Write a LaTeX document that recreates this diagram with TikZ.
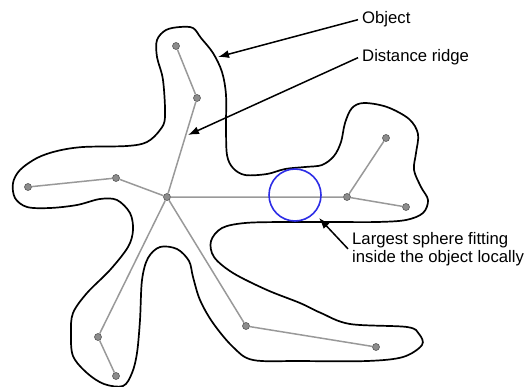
\documentclass[tikz,border=0pt]{standalone}
\usepackage{fontspec}
\setmainfont{Liberation Sans}
\usetikzlibrary{positioning,arrows.meta}
\definecolor{ballblue}{RGB}{45,45,230}
\tikzset{
    joint/.style={circle,draw=black!65,fill=black!45,line width=0.6pt,inner sep=0pt,minimum size=7pt},
    ridge/.style={draw=black!40,line width=1.5pt},
    note/.style={inner sep=4pt,font=\fontsize{16.7}{17.6}\selectfont,align=left},
    pointer/.style={-{Latex[length=11pt,width=8pt]},line width=1.5pt},
}
\begin{document}
\begin{tikzpicture}[x=1pt,y=-1pt]
            \useasboundingbox (0,0) rectangle (526,387);
            \draw[line width=1.7pt] plot[smooth cycle,tension=0.55] coordinates {
                (180,27) (193,28) (201,38) (213,53) (222,72) (226,95) (226,127) (227,155)
                (233,168) (245,175) (267,174) (285,169) (305,167) (322,165) (334,156)
                (341,142) (345,123) (352,108) (364,103) (387,107) (409,119) (418,134)
                (416,153) (414,170) (421,187) (428,200) (423,213) (406,220) (377,222)
                (333,222) (283,222) (245,223) (222,228) (211,241) (214,257) (233,273)
                (267,290) (300,303) (321,313) (350,324) (407,327) (419,334) (422,345)
                (403,357) (367,361) (300,361) (253,360) (233,347) (213,323) (200,300)
                (193,277) (189,261) (177,249) (160,247) (148,258) (142,280) (140,320)
                (137,353) (132,373) (123,386) (104,384) (87,373) (73,356) (71,333)
                (73,313) (87,293) (110,270) (128,247) (133,230) (130,213) (117,200)
                (100,199) (77,205) (50,208) (27,207) (15,198) (13,183) (20,170)
                (37,158) (57,151) (83,147) (127,146) (147,142) (160,130) (165,117)
                (163,80) (157,57) (157,40) (166,30)
            };
            \node[joint] (hub) at (167,197) {};
            \node[joint] (top) at (176,46) {};
            \node[joint] (upper) at (197,98) {};
            \node[joint] (west) at (28,187) {};
            \node[joint] (inner) at (116,178) {};
            \node[joint] (east) at (347,197) {};
            \node[joint] (eastup) at (386,138) {};
            \node[joint] (eastlow) at (406,207) {};
            \node[joint] (knee) at (98,337) {};
            \node[joint] (foot) at (116,376) {};
            \node[joint] (south) at (246,326) {};
            \node[joint] (southend) at (376,347) {};
            \draw[ridge] (top) -- (upper) -- (hub);
            \draw[ridge] (west) -- (inner) -- (hub);
            \draw[ridge] (hub) -- (east) -- (eastup);
            \draw[ridge] (east) -- (eastlow);
            \draw[ridge] (hub) -- (knee) -- (foot);
            \draw[ridge] (hub) -- (south) -- (southend);
            \node[circle,draw=ballblue,line width=1.6pt,minimum size=52pt,inner sep=0pt] (ball) at (295,195) {};
            \node[note,anchor=base west] (object) at (358,24) {Object};
            \node[note,anchor=base west] (distance) at (358,62) {Distance ridge};
            \node[note,anchor=base west] (fitting) at (348,262) {Largest sphere fitting\\inside the object locally};
            \coordinate (objtip) at (218,57);
            \coordinate (ridgetip) at (188,135);
            \coordinate (balltip) at (319,218);
            \draw[pointer] (object.west) -- (objtip);
            \draw[pointer] (distance.west) -- (ridgetip);
            \draw[pointer] (fitting.west) -- (balltip);
\end{tikzpicture}
\end{document}
